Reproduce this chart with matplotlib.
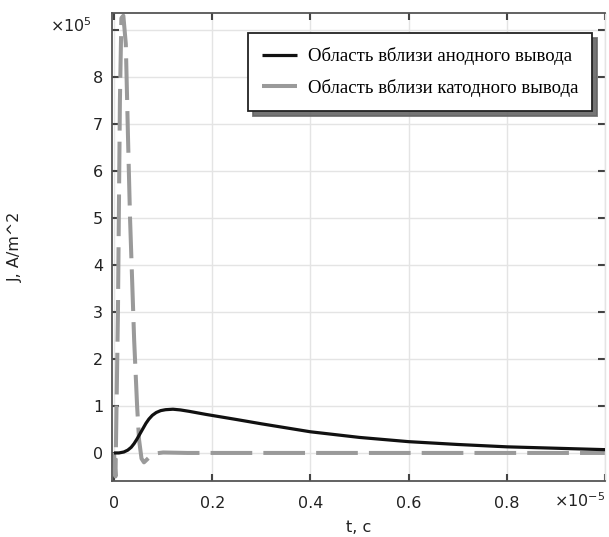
import matplotlib
matplotlib.use("Agg")
import matplotlib.pyplot as plt
from matplotlib.ticker import FuncFormatter, FixedLocator
import numpy as np

# Current density near the anode lead (t in units of 1e-5 s, J in units of 1e5 A/m^2)
t_anode = [0, 0.01, 0.02, 0.028, 0.035, 0.041, 0.047, 0.053, 0.059, 0.065, 0.071, 0.078,
           0.086, 0.095, 0.105, 0.12, 0.135, 0.153, 0.187, 0.25, 0.3, 0.4, 0.5, 0.6,
           0.7, 0.8, 0.9, 1.0]
j_anode = [0, 0.0, 0.02, 0.06, 0.12, 0.2, 0.3, 0.41, 0.52, 0.63, 0.72, 0.8,
           0.86, 0.9, 0.92, 0.93, 0.915, 0.885, 0.82, 0.71, 0.62, 0.45, 0.33, 0.24,
           0.18, 0.13, 0.10, 0.07]

# Current density near the cathode lead
t_cathode = [0, 0.003, 0.008, 0.012, 0.015, 0.019, 0.024, 0.0285, 0.0326, 0.041, 0.047,
             0.051, 0.056, 0.061, 0.067, 0.075, 0.085, 0.1, 0.15, 0.3, 0.5, 0.7, 0.9, 1.0]
j_cathode = [0, -0.5, 3.0, 7.5, 9.25, 9.3, 8.7, 6.7, 5.0, 2.4, 1.0,
             0.28, -0.12, -0.2, -0.14, -0.06, -0.01, 0.01, 0.0, 0.0, 0.0, 0.0, 0.0, 0.0]

x_scale = 1e-5
y_scale = 1e5

t_a = np.array(t_anode) * x_scale
j_a = np.array(j_anode) * y_scale
t_c = np.array(t_cathode) * x_scale
j_c = np.array(j_cathode) * y_scale

x_ticks = [0, 0.2, 0.4, 0.6, 0.8, 1.0]
y_ticks = [0, 1, 2, 3, 4, 5, 6, 7, 8, 9]

legend_labels = ["Область вблизи анодного вывода", "Область вблизи катодного вывода"]

fig = plt.figure(figsize=(6.09, 5.37), dpi=100)
ax = fig.add_axes([0.184, 0.104, 0.8095, 0.872])

ax.plot(t_a, j_a, color="#111111", lw=2.3, solid_capstyle="butt", zorder=3,
        label=legend_labels[0])
lw_c = 2.9
ax.plot(t_c, j_c, color="#9a9a9a", lw=lw_c, zorder=2, label=legend_labels[1],
        dashes=(30 / lw_c, 8 / lw_c), dash_capstyle="butt")

ax.set_xlim(-0.004 * x_scale, 1.0 * x_scale)
ax.set_ylim(-0.6 * y_scale, 9.36 * y_scale)

ax.xaxis.set_major_locator(FixedLocator([v * x_scale for v in x_ticks]))
ax.yaxis.set_major_locator(FixedLocator([v * y_scale for v in y_ticks]))


def fmt_x(v, pos):
    val = v / x_scale
    if abs(val - 1.0) < 1e-9:
        return ""
    return "0" if abs(val) < 1e-9 else f"{val:g}"


def fmt_y(v, pos):
    val = v / y_scale
    if abs(val - 9) < 1e-9:
        return ""
    return f"{val:g}"


ax.xaxis.set_major_formatter(FuncFormatter(fmt_x))
ax.yaxis.set_major_formatter(FuncFormatter(fmt_y))

ax.grid(True, color="#e4e4e4", lw=1.0, zorder=0)
ax.set_axisbelow(True)

ax.tick_params(axis="both", which="major", direction="in", length=5, width=1.5,
               color="#444444", labelsize=11.5, labelcolor="#222222",
               top=True, right=True)
ax.tick_params(axis="x", pad=11)
ax.tick_params(axis="y", pad=6.5)

for side in ["left", "bottom", "top"]:
    ax.spines[side].set_color("#555555")
    ax.spines[side].set_linewidth(1.3)
ax.spines["right"].set_color("#e4e4e4")
ax.spines["right"].set_linewidth(1.0)

ax.set_xlabel("t, c", fontsize=11.5, color="#222222", labelpad=6)
ax.set_ylabel("J, A/m^2", fontsize=11.5, color="#222222", labelpad=50)

# Scale factors drawn as annotations beside the axes
ax.text(-0.04, 0.972, r"$\times10^{5}$", transform=ax.transAxes, ha="right", va="center",
        fontsize=11.5, color="#222222")
ax.text(1.0, -0.042, r"$\times10^{-5}$", transform=ax.transAxes, ha="right", va="center",
        fontsize=11.5, color="#222222")

leg = ax.legend(loc="upper right", bbox_to_anchor=(0.974, 0.957), fancybox=False,
                frameon=True, edgecolor="#222222", framealpha=1.0,
                prop={"family": "Liberation Serif", "size": 13.5},
                handlelength=1.9, handletextpad=0.55, borderpad=0.75, labelspacing=0.72,
                borderaxespad=0.0,
                shadow={"ox": 3.5, "oy": -3.5, "color": "#666666", "alpha": 0.9})
leg.get_frame().set_linewidth(1.3)

fig.savefig("out.png", dpi=100)
